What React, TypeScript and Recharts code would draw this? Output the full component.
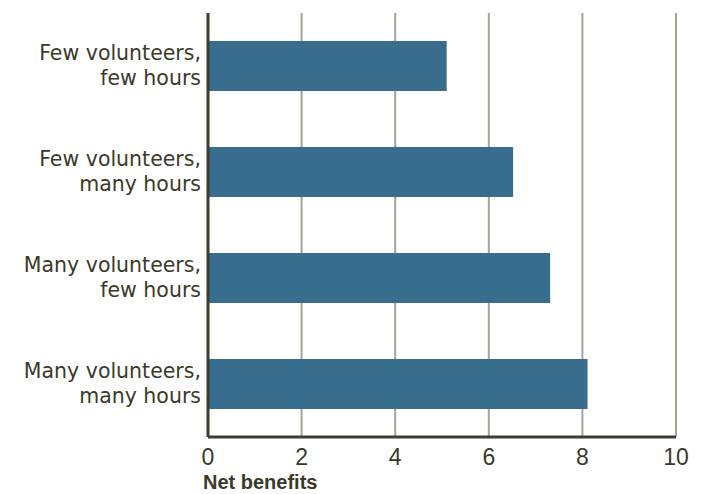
import React from 'react';
import { BarChart, Bar, XAxis, YAxis, CartesianGrid, Label } from 'recharts';

const categories = [
  ['Few volunteers,', 'few hours'],
  ['Few volunteers,', 'many hours'],
  ['Many volunteers,', 'few hours'],
  ['Many volunteers,', 'many hours'],
];
const netBenefits = [5.1, 6.52, 7.31, 8.11];
const xTicks = [0, 2, 4, 6, 8, 10];
const xTitle = 'Net benefits';

const data = categories.map((c, i) => ({ name: c.join('|'), value: netBenefits[i] }));

const TICK_FONT = '"Liberation Sans", Arial, sans-serif';
const LABEL_FONT = '"DejaVu Sans", sans-serif';
const TEXT = '#3a3a2a';

const YTick = (props: any) => {
  const { x, y, payload } = props;
  const lines = String(payload.value).split('|');
  return (
    <g>
      <text x={x} y={y} dy={-6} textAnchor="end" fill={TEXT} fontSize={20.5} fontFamily={LABEL_FONT}>
        {lines[0]}
      </text>
      <text x={x} y={y} dy={19} textAnchor="end" fill={TEXT} fontSize={20.5} fontFamily={LABEL_FONT}>
        {lines[1]}
      </text>
    </g>
  );
};

const XTick = (props: any) => {
  const { x, y, payload } = props;
  return (
    <text x={x} y={y} dy={20} textAnchor="middle" fill={TEXT} fontSize={23} fontFamily={TICK_FONT}>
      {payload.value}
    </text>
  );
};

export default function App() {
  return (
    <div style={{ position: 'absolute', left: 0, top: 0, background: '#fff' }}>
      <BarChart
        width={702}
        height={494}
        data={data}
        layout="vertical"
        margin={{ top: 13, right: 26, bottom: 27, left: 0 }}
        barCategoryGap={28}
      >
        <CartesianGrid horizontal={false} stroke="#a8a298" strokeWidth={2} />
        <XAxis
          type="number"
          domain={[0, 10]}
          ticks={xTicks}
          tickLine={false}
          axisLine={{ stroke: '#3d3d2d', strokeWidth: 3 }}
          tick={<XTick />}
          interval={0}
          height={30}
        >
          <Label
            content={() => (
              <text x={203} y={489} fill={TEXT} fontSize={20} fontWeight="bold" fontFamily={TICK_FONT}>
                {xTitle}
              </text>
            )}
          />
        </XAxis>
        <YAxis
          type="category"
          dataKey="name"
          width={208}
          tickLine={false}
          axisLine={{ stroke: '#3d3d2d', strokeWidth: 3 }}
          tick={<YTick />}
          tickMargin={1}
          interval={0}
        />
        <Bar dataKey="value" fill="#386d8e" barSize={50} isAnimationActive={false} />
      </BarChart>
    </div>
  );
}
